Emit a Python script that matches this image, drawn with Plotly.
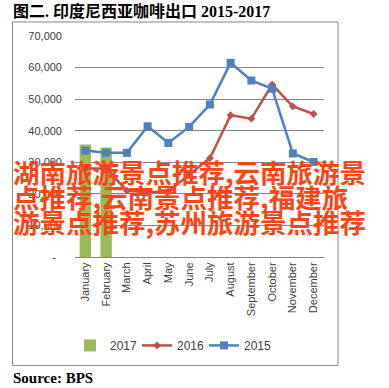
import plotly.graph_objects as go

months = ["January", "February", "March", "April", "May", "June", "July",
          "August", "September", "October", "November", "December"]
exports_2017 = [35600, 34700, None, None, None, None, None, None, None, None, None, None]
exports_2016 = [28000, 28000, 21000, 20500, 20800, 26000, 31300, 44900, 43800, 54600, 47700, 45300]
exports_2015 = [33700, 33000, 33000, 41400, 36100, 41200, 48300, 61500, 55900, 53300, 32800, 30100]
y_ticks = [0, 10000, 20000, 30000, 40000, 50000, 60000, 70000]
y_tick_text = ["-\u00a0\u00a0", "10,000", "20,000", "30,000", "40,000", "50,000", "60,000", "70,000"]

title_text = "图二. 印度尼西亚咖啡出口 2015-2017"
source_text = "Source: BPS"
watermark_lines = ["湖南旅游景点推荐,云南旅游景", "点推荐,云南景点推荐,福建旅", "游景点推荐,苏州旅游景点推荐"]

W, H = 389, 388
L, R, T, B = 75, 65, 36, 131.3
pw, ph = W - L - R, H - T - B

def px(x):
    return (x - L) / pw

def py(y):
    return (H - B - y) / ph

fig = go.Figure()
fig.add_trace(go.Bar(x=months, y=exports_2017, name="2017", marker_color="#9BBB59",
                     width=0.55, marker_line_width=0))
fig.add_trace(go.Scatter(x=months, y=exports_2016, name="2016", mode="lines+markers",
                         line=dict(color="#C0504D", width=2.5),
                         marker=dict(symbol="diamond", size=6, color="#C0504D")))
fig.add_trace(go.Scatter(x=months, y=exports_2015, name="2015", mode="lines+markers",
                         line=dict(color="#4F81BD", width=2.5),
                         marker=dict(symbol="square", size=8, color="#4F81BD")))

fig.update_layout(
    width=W, height=H,
    margin=dict(l=L, r=R, t=T, b=B, autoexpand=False),
    paper_bgcolor="white", plot_bgcolor="white",
    font=dict(family="Liberation Sans, Arial, sans-serif", color="#404040", size=11),
    showlegend=True,
    legend=dict(orientation="h", x=px(70), xanchor="left", y=py(345), yanchor="middle",
                font=dict(size=12, color="#404040"), entrywidth=22, entrywidthmode="pixels",
                bgcolor="rgba(0,0,0,0)", tracegroupgap=0),
    bargap=0.45,
)
fig.update_xaxes(type="category", range=[-0.5, 11.5], tickangle=-90, showgrid=False,
                 showline=True, linecolor="#868686", linewidth=1, ticks="",
                 tickfont=dict(size=11, color="#404040"), fixedrange=True, automargin=False)
fig.update_yaxes(range=[0, 70000], tickvals=y_ticks, ticktext=y_tick_text,
                 showgrid=True, gridcolor="#868686", gridwidth=1, zeroline=False,
                 showline=False, ticks="", ticklabelstandoff=12,
                 tickfont=dict(size=11, color="#404040"), fixedrange=True, automargin=False)

# outer chart frame
fig.add_shape(type="rect", xref="paper", yref="paper", x0=px(12.5), x1=px(338), y0=py(365), y1=py(22),
              line=dict(color="#878787", width=1), fillcolor="rgba(0,0,0,0)", layer="below")

fig.add_annotation(text="<b>" + title_text + "</b>", xref="paper", yref="paper", x=px(11), y=py(11),
                   xanchor="left", yanchor="middle", showarrow=False,
                   font=dict(family="Liberation Serif, Noto Sans CJK SC, serif", size=16, color="black"))
fig.add_annotation(text="<b>" + source_text + "</b>", xref="paper", yref="paper", x=px(11), y=py(378),
                   xanchor="left", yanchor="middle", showarrow=False,
                   font=dict(family="Liberation Serif, serif", size=15, color="black"))

for i, line in enumerate(watermark_lines):
    fig.add_annotation(text="<b>" + line + "</b>", xref="paper", yref="paper", x=px(11), y=py(171.5 + 25 * i),
                       xanchor="left", yanchor="middle", showarrow=False,
                       font=dict(family="Noto Sans CJK SC, sans-serif", size=26.5, color="#fa4616"))

fig.write_html("out.html", config={"displayModeBar": False},
               post_script="document.body.style.margin='0';document.body.style.overflow='hidden';")
